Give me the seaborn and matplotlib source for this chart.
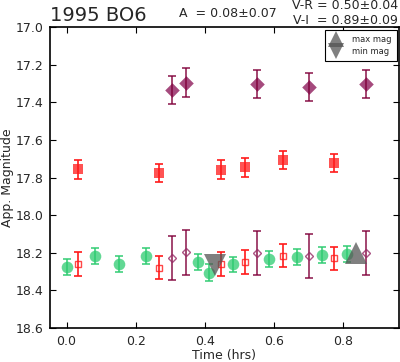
import numpy as np
import pandas as pd
import matplotlib
matplotlib.use("Agg")
import matplotlib.pyplot as plt
import seaborn as sns

# V band (green circles)
v_time = [0.00, 0.083, 0.151, 0.230, 0.381, 0.413, 0.481, 0.587, 0.667, 0.739, 0.812]
v_mag = [18.275, 18.218, 18.261, 18.218, 18.248, 18.305, 18.262, 18.234, 18.223, 18.213, 18.206]
v_err = [0.044, 0.042, 0.042, 0.042, 0.042, 0.044, 0.042, 0.042, 0.042, 0.042, 0.042]

# R band, shifted (filled red squares) and on V scale (open squares)
r_time = [0.034, 0.268, 0.447, 0.517, 0.627, 0.774]
r_mag = [17.757, 17.777, 17.759, 17.745, 17.707, 17.723]
r_err = [0.051, 0.049, 0.051, 0.050, 0.050, 0.050]
r_mag_v = [18.262, 18.280, 18.262, 18.250, 18.215, 18.229]
r_err_v = [0.064, 0.062, 0.064, 0.064, 0.062, 0.062]

# I band, shifted (filled diamonds) and on V scale (open diamonds)
i_time = [0.306, 0.345, 0.551, 0.701, 0.866]
i_mag = [17.335, 17.296, 17.303, 17.320, 17.303]
i_err = [0.075, 0.078, 0.075, 0.074, 0.075]
i_mag_v = [18.230, 18.197, 18.202, 18.218, 18.202]
i_err_v = [0.117, 0.120, 0.118, 0.117, 0.118]

# extrema of the light curve
max_time, max_mag = 0.839, 18.200
min_time, min_mag = 0.430, 18.265

green = "#2ecc71"
red = "#ff1a1a"
purple = "#962a66"
purple_dark = "#80003a"

sns.set_style("ticks")
plt.rcParams['font.family'] = ['DejaVu Sans']
plt.rcParams['xtick.direction'] = 'in'
plt.rcParams['ytick.direction'] = 'in'

fig = plt.figure(figsize=(4.0, 3.62), dpi=100)
ax = fig.add_axes([0.125, 0.094, 0.8725, 0.831])

# error bars
ax.errorbar(v_time, v_mag, yerr=v_err, fmt='none', ecolor=green, elinewidth=1.2, capsize=3, capthick=1.2, alpha=0.9)
ax.errorbar(r_time, r_mag, yerr=r_err, fmt='none', ecolor=red, elinewidth=1.2, capsize=3, capthick=1.2)
ax.errorbar(r_time, r_mag_v, yerr=r_err_v, fmt='none', ecolor=red, elinewidth=1.2, capsize=3, capthick=1.2)
ax.errorbar(i_time, i_mag, yerr=i_err, fmt='none', ecolor=purple_dark, elinewidth=1.2, capsize=3, capthick=1.2, alpha=0.85)
ax.errorbar(i_time, i_mag_v, yerr=i_err_v, fmt='none', ecolor=purple_dark, elinewidth=1.2, capsize=3, capthick=1.2, alpha=0.85)

# markers
sns.scatterplot(x=v_time, y=v_mag, ax=ax, marker='o', s=70, color=green, alpha=0.75, linewidth=0)
sns.scatterplot(x=r_time, y=r_mag, ax=ax, marker='s', s=60, color=red, alpha=0.75, linewidth=0)
sns.scatterplot(x=i_time, y=i_mag, ax=ax, marker='D', s=55, color=purple, alpha=0.85, linewidth=0)
ax.plot(r_time, r_mag_v, 's', ms=4, mfc='none', mec=red, mew=1.0, alpha=0.8)
ax.plot(i_time, i_mag_v, 'D', ms=4, mfc='none', mec=purple, mew=1.0, alpha=0.8)

ax.plot([max_time], [max_mag], '^', ms=16, color='#555555', alpha=0.75, mew=0, label='max mag')
ax.plot([min_time], [min_mag], 'v', ms=16, color='#555555', alpha=0.75, mew=0, label='min mag')

ax.set_xlim(-0.048, 0.963)
ax.set_ylim(18.6, 17.0)
ax.set_xticks([0.0, 0.2, 0.4, 0.6, 0.8])
ax.set_yticks(np.arange(17.0, 18.61, 0.2))
ax.set_xticklabels(['0.0', '0.2', '0.4', '0.6', '0.8'])
ax.set_yticklabels(['17.0', '17.2', '17.4', '17.6', '17.8', '18.0', '18.2', '18.4', '18.6'])
ax.tick_params(axis='both', which='both', top=True, right=True, labelsize=9, length=4, width=0.8,
               color='black', pad=5)
for sp in ax.spines.values():
    sp.set_visible(True)
    sp.set_color('black')
    sp.set_linewidth(1.2)

ax.set_xlabel('Time (hrs)', fontsize=9, labelpad=1)
ax.set_ylabel('App. Magnitude', fontsize=9, labelpad=1)

leg = ax.legend(loc='upper right', fontsize=6, handlelength=1.4, handletextpad=1.2,
                borderpad=0.6, labelspacing=0.4, fancybox=False, framealpha=1,
                edgecolor='black', markerscale=0.75, borderaxespad=0.3)
leg.get_frame().set_linewidth(0.8)

fig.text(0.125, 0.932, '1995 BO6', fontsize=14, ha='left', va='bottom')
fig.text(0.57, 0.962, 'A  = 0.08\u00b10.07', fontsize=9, ha='center', va='center')
fig.text(0.995, 0.985, 'V-R = 0.50\u00b10.04', fontsize=9, ha='right', va='center')
fig.text(0.995, 0.943, 'V-I  = 0.89\u00b10.09', fontsize=9, ha='right', va='center')

fig.savefig('out.png', dpi=100)
